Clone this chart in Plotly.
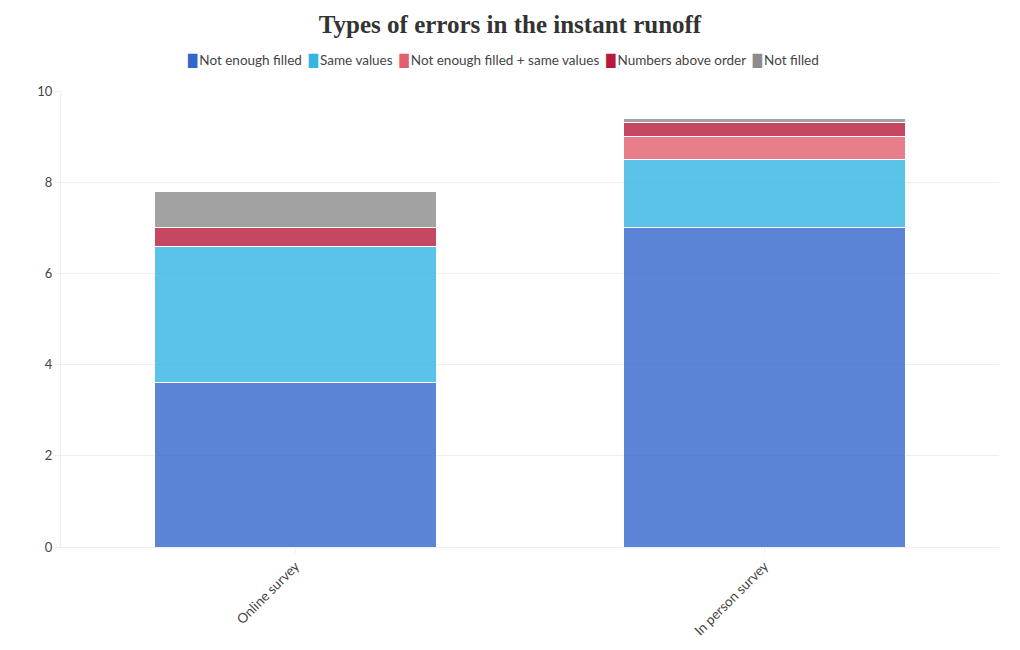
import plotly.graph_objects as go

categories = ["Online survey", "In person survey"]
series_names = ["Not enough filled", "Same values", "Not enough filled + same values",
                "Numbers above order", "Not filled"]
not_enough_filled = [3.6, 7.0]
same_values = [3.0, 1.5]
not_enough_plus_same = [0.0, 0.5]
numbers_above_order = [0.4, 0.3]
not_filled = [0.8, 0.1]
colors = ["#3366cc", "#33b5e5", "#e25e6d", "#b81a3c", "#8c8c8c"]

values = [not_enough_filled, same_values, not_enough_plus_same, numbers_above_order, not_filled]

fig = go.Figure()
for name, vals, col in zip(series_names, values, colors):
    fig.add_trace(go.Bar(
        x=categories, y=vals, name=name, showlegend=False,
        marker=dict(color=col, opacity=0.8, line=dict(color="white", width=1)),
    ))

# compact legend built as one text line
legend_text = "&nbsp;&nbsp;".join(
    f"<span style='color:{c}; font-family:DejaVu Sans; font-size:12px'>█</span>"
    f"<span style='font-size:8px'>&nbsp;</span>{n}"
    for n, c in zip(series_names, colors)
)

fig.update_layout(
    barmode="stack",
    bargap=0.4,
    width=1020, height=650,
    margin=dict(l=61, r=21, t=91, b=103),
    paper_bgcolor="white", plot_bgcolor="white",
    font=dict(family="Lato, Noto Sans, sans-serif", size=13, color="#444"),
    title=dict(text="<b>Types of errors in the instant runoff</b>", x=0.5, xanchor="center",
               y=0.963, yanchor="middle",
               font=dict(family="Liberation Serif, serif", size=25, color="#333")),
    annotations=[dict(text=legend_text, xref="paper", yref="paper", x=0.471, y=1.068,
                      xanchor="center", yanchor="middle", showarrow=False,
                      font=dict(size=13.5, color="#444"))],
    xaxis=dict(tickangle=-45, showline=True, linecolor="#eee", ticks="outside",
               ticklen=5, tickcolor="#eee", tickfont=dict(size=13.5, color="#444")),
    yaxis=dict(range=[0, 10], dtick=2, gridcolor="#eee", showline=True, linecolor="#eee",
               zeroline=False, ticks="outside", ticklen=5, tickcolor="#eee",
               tickfont=dict(size=13, color="#444")),
)
fig.write_html("out.html")
